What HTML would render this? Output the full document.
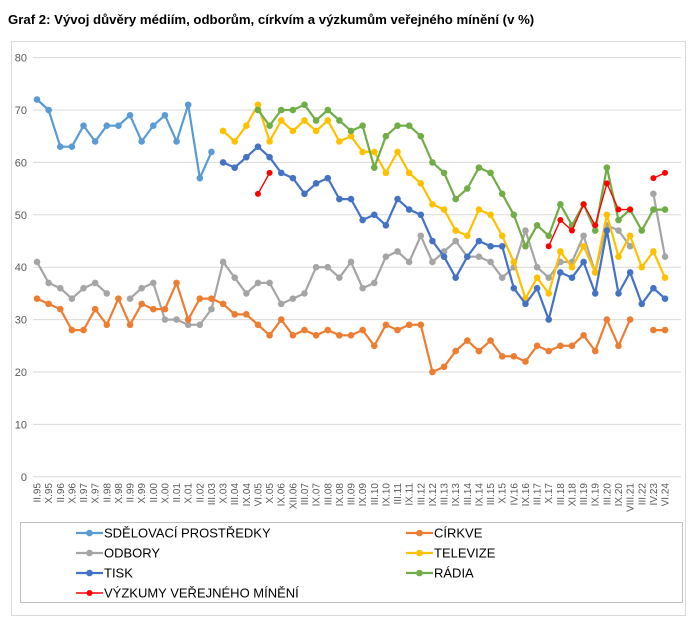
<!DOCTYPE html>
<html><head><meta charset="utf-8">
<style>
body{margin:0;background:#fff;width:700px;height:624px;overflow:hidden;font-family:"Liberation Sans",Arial,sans-serif}
</style></head>
<body>
<svg id="s" width="700" height="624" xmlns="http://www.w3.org/2000/svg" font-family="Liberation Sans, Arial, sans-serif">
<text x="8" y="24" font-size="13.2" font-weight="bold" fill="#000">Graf 2: Vývoj důvěry médiím, odborům, církvím a výzkumům veřejného mínění (v %)</text>
<rect x="11.5" y="41.5" width="674" height="574" fill="none" stroke="#d9d9d9"/>
<g stroke="#d9d9d9" stroke-width="1">
<line x1="33" x2="681" y1="57.6" y2="57.6"/><line x1="33" x2="681" y1="110" y2="110"/>
<line x1="33" x2="681" y1="162.4" y2="162.4"/><line x1="33" x2="681" y1="214.8" y2="214.8"/>
<line x1="33" x2="681" y1="267.2" y2="267.2"/><line x1="33" x2="681" y1="319.6" y2="319.6"/>
<line x1="33" x2="681" y1="372" y2="372"/><line x1="33" x2="681" y1="424.4" y2="424.4"/>
<line x1="33" x2="681" y1="476.8" y2="476.8"/>
</g>
<g font-size="11" fill="#595959" text-anchor="end">
<text x="27" y="61.5">80</text><text x="27" y="114">70</text><text x="27" y="166.4">60</text>
<text x="27" y="218.8">50</text><text x="27" y="271.2">40</text><text x="27" y="323.6">30</text>
<text x="27" y="376">20</text><text x="27" y="428.4">10</text><text x="27" y="480.8">0</text>
</g>
<g id="xl" font-size="10" fill="#595959" text-anchor="end"></g>
<g id="series"></g>
<rect x="20.5" y="522.5" width="662" height="80" fill="none" stroke="#bfbfbf"/>
<g stroke-width="2.2">
<line x1="76" x2="103" y1="533" y2="533" stroke="#5B9BD5"/><circle cx="89.5" cy="533" r="3.3" fill="#5B9BD5"/>
<line x1="76" x2="103" y1="553" y2="553" stroke="#A5A5A5"/><circle cx="89.5" cy="553" r="3.3" fill="#A5A5A5"/>
<line x1="76" x2="103" y1="573" y2="573" stroke="#4472C4"/><circle cx="89.5" cy="573" r="3.3" fill="#4472C4"/>
<line x1="76" x2="103" y1="593" y2="593" stroke="#FF0000" stroke-width="1.4"/><circle cx="89.5" cy="593" r="3" fill="#FF0000"/>
<line x1="406" x2="433" y1="533" y2="533" stroke="#ED7D31"/><circle cx="419.5" cy="533" r="3.3" fill="#ED7D31"/>
<line x1="406" x2="433" y1="553" y2="553" stroke="#FFC000"/><circle cx="419.5" cy="553" r="3.3" fill="#FFC000"/>
<line x1="406" x2="433" y1="573" y2="573" stroke="#70AD47"/><circle cx="419.5" cy="573" r="3.3" fill="#70AD47"/>
</g>
<g font-size="13" fill="#000">
<text x="104" y="537.5">SDĚLOVACÍ PROSTŘEDKY</text>
<text x="104" y="557.5">ODBORY</text>
<text x="104" y="577.5">TISK</text>
<text x="104" y="597.5">VÝZKUMY VEŘEJNÉHO MÍNĚNÍ</text>
<text x="434" y="537.5">CÍRKVE</text>
<text x="434" y="557.5">TELEVIZE</text>
<text x="434" y="577.5">RÁDIA</text>
</g>
</svg>
<script>
var N=null;
function X(i){return 37+11.63*i;}
function Y(v){return 476.8-5.24*v;}
var labels=["II.95","X.95","II.96","X.96","II.97","X.97","II.98","X.98","II.99","X.99","II.00","X.00","II.01","X.01","II.02","III.03","X.03","III.04","IX.04","VI.05","X.05","IX.06","XII.06","III.07","IX.07","III.08","IX.08","III.09","IX.09","III.10","IX.10","III.11","IX.11","III.12","IX.12","III.13","IX.13","III.14","IX.14","III.15","X.15","IV.16","IX.16","III.17","X.17","III.18","XI.18","III.19","IX.19","III.20","IX.20","VIII.21","III.22","IV.23","VI.24"];
var ns="http://www.w3.org/2000/svg";
var xl=document.getElementById("xl");
labels.forEach(function(l,i){var t=document.createElementNS(ns,"text");var x=X(i)+3.5;t.setAttribute("x",x);t.setAttribute("y",483);t.setAttribute("transform","rotate(-90 "+x+" 483)");t.textContent=l;xl.appendChild(t);});
function nulls(n){var a=[];for(var i=0;i<n;i++)a.push(N);return a;}
var series=[
["#A5A5A5",2.2,3.3,[41,37,36,34,36,37,35,N,34,36,37,30,30,29,29,32,41,38,35,37,37,33,34,35,40,40,38,41,36,37,42,43,41,46,41,43,45,42,42,41,38,40,47,40,38,41,41,46,39,48,47,44,N,54,42]],
["#ED7D31",2.2,3.3,[34,33,32,28,28,32,29,34,29,33,32,32,37,30,34,34,33,31,31,29,27,30,27,28,27,28,27,27,28,25,29,28,29,29,20,21,24,26,24,26,23,23,22,25,24,25,25,27,24,30,25,30,N,28,28]],
["#5B9BD5",2.2,3.3,[72,70,63,63,67,64,67,67,69,64,67,69,64,71,57,62].concat(nulls(39))],
["#FFC000",2.2,3.3,nulls(16).concat([66,64,67,71,64,68,66,68,66,68,64,65,62,62,58,62,58,56,52,51,47,46,51,50,46,41,34,38,35,43,40,44,39,50,42,46,40,43,38])],
["#4472C4",2.2,3.3,nulls(16).concat([60,59,61,63,61,58,57,54,56,57,53,53,49,50,48,53,51,50,45,42,38,42,45,44,44,36,33,36,30,39,38,41,35,47,35,39,33,36,34])],
["#70AD47",2.2,3.3,nulls(19).concat([70,67,70,70,71,68,70,68,66,67,59,65,67,67,65,60,58,53,55,59,58,54,50,44,48,46,52,48,52,47,59,49,51,47,51,51])],
["#FF0000",1.4,3,nulls(19).concat([54,58]).concat(nulls(23)).concat([44,49,47,52,48,56,51,51,N,57,58])]
];
var g=document.getElementById("series");
series.forEach(function(s){
  var d="",pen=false;
  s[3].forEach(function(v,i){ if(v===N){pen=false;return;} d+=(pen?"L":"M")+X(i).toFixed(1)+" "+Y(v).toFixed(1); pen=true;});
  var p=document.createElementNS(ns,"path");p.setAttribute("d",d);p.setAttribute("fill","none");p.setAttribute("stroke",s[0]);p.setAttribute("stroke-width",s[1]);p.setAttribute("stroke-linejoin","round");g.appendChild(p);
  s[3].forEach(function(v,i){ if(v===N)return; var c=document.createElementNS(ns,"circle");c.setAttribute("cx",X(i));c.setAttribute("cy",Y(v));c.setAttribute("r",s[2]);c.setAttribute("fill",s[0]);g.appendChild(c);});
});
</script>
</body></html>
